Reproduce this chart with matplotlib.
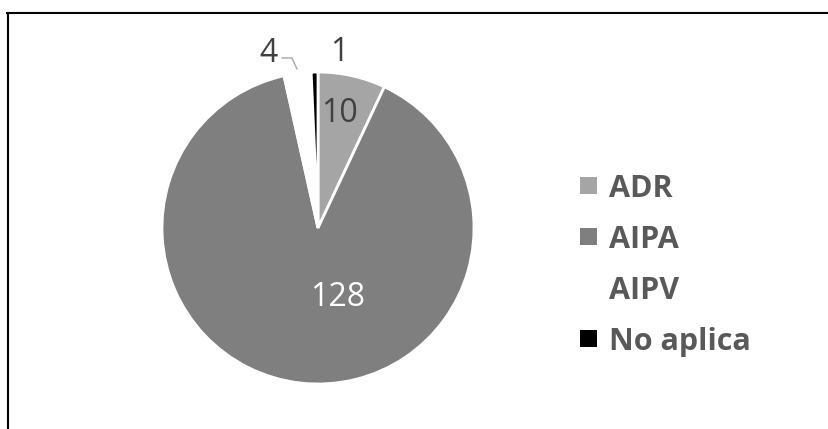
import matplotlib
matplotlib.use("Agg")
import matplotlib.pyplot as plt
import numpy as np
from matplotlib.lines import Line2D
from matplotlib.patches import Rectangle

categories = ["ADR", "AIPA", "AIPV", "No aplica"]
values = [10, 128, 4, 1]
colors = ["#A5A5A5", "#7F7F7F", "#FFFFFF", "#000000"]

W, H = 829, 429
fig = plt.figure(figsize=(W / 100, H / 100), dpi=100)

# frame lines (top and left)
fig.add_artist(Line2D([7 / W, 1.0], [1 - 13 / H, 1 - 13 / H], color="black", lw=1.5))
fig.add_artist(Line2D([8 / W, 8 / W], [0, 1 - 13 / H], color="black", lw=1.5))

cx, cy, R = 318, 228, 156
ax = fig.add_axes([(cx - R) / W, (H - cy - R) / H, 2 * R / W, 2 * R / H])
wedges, _ = ax.pie(values, colors=colors, startangle=90, counterclock=False,
                   radius=1.0, wedgeprops=dict(edgecolor="white", linewidth=2))
ax.set_xlim(-1, 1)
ax.set_ylim(-1, 1)
ax.set_aspect("auto")
ax.axis("off")

font = "Open Sans"
lab_fs = 23
# data label anchors (data units, baseline)
label_pos = [(0.138, 0.679), (0.128, -0.50), (-0.32, 1.064), (0.135, 1.07)]
label_col = ["#404040", "#FFFFFF", "#404040", "#404040"]
for v, (lx, ly), lc in zip(values, label_pos, label_col):
    ax.text(lx, ly, str(v), ha="center", va="baseline", fontsize=lab_fs,
            color=lc, family=font, clip_on=False)
ax.plot([-0.23, -0.167, -0.135], [1.09, 1.09, 1.02], color="#A6A6A6", lw=1, clip_on=False)

# legend
baselines = [197, 248, 299, 350]
sq = 17
for lab, col, yb in zip(categories, colors, baselines):
    yc = yb - 11.5
    fig.add_artist(Rectangle(((589 - sq / 2) / W, 1 - (yc + sq / 2) / H), sq / W, sq / H,
                             facecolor=col, edgecolor="none", transform=fig.transFigure))
    fig.text(609 / W, 1 - yb / H, lab, color="#595959", fontsize=22, fontweight="bold",
             ha="left", va="baseline", family=font)

fig.savefig("out.png", dpi=100)
